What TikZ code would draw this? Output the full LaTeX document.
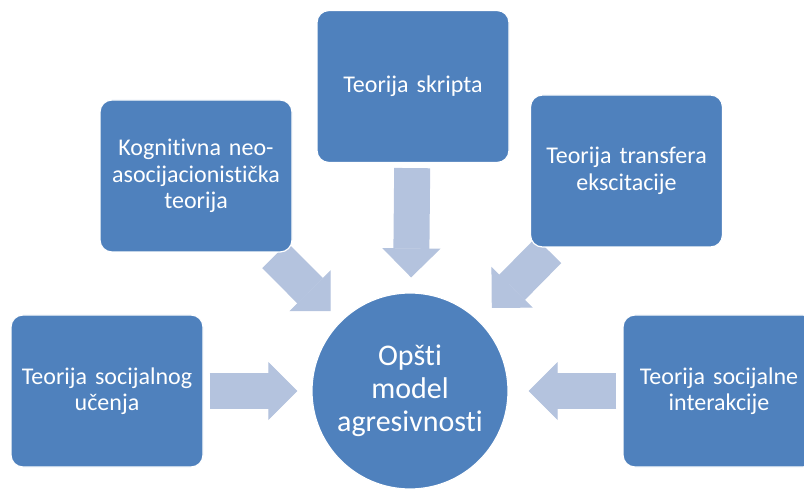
\documentclass[tikz,border=0pt]{standalone}
\usepackage{fontspec}
\setmainfont{Carlito}[Ligatures=NoCommon]
\usetikzlibrary{positioning,arrows.meta,backgrounds}

\definecolor{boxblue}{HTML}{4F81BD}
\definecolor{arrowblue}{HTML}{B4C3DE}

\begin{document}
\begin{tikzpicture}[x=1pt,y=1pt,on grid,
    box/.style={rectangle,rounded corners=12pt,fill=boxblue,draw=white,line width=1.2pt,
      minimum width=192pt,minimum height=152pt,text width=182pt,align=center,
      text=white,font=\fontsize{24}{26.5}\selectfont},
    hub/.style={circle,fill=boxblue,draw=white,line width=1.2pt,minimum size=196pt,
      inner sep=0pt,align=center,text=white,font=\fontsize{30}{33}\selectfont},
    blockarrow/.style={draw,color=arrowblue,line width=36pt,
      -{Triangle[width=58pt,length=29pt,line width=1pt]}}]

   \useasboundingbox (0,0) rectangle (804,-489);

   \node[hub] (centre) at (410,-391) {Opšti\\model\\agresivnosti};
   \node[box] (skript) [above right=304.5pt and 3pt of centre] {Teorija skripta};
   \node[box] (kogn)   [above left=215pt and 214pt of centre] {Kognitivna neo-\\asocijacionistička\\teorija};
   \node[box] (transf) [above right=220pt and 216.5pt of centre] {Teorija transfera\\ekscitacije};
   \node[box] (socuc)  [left=303pt of centre] {Teorija socijalnog\\učenja};
   \node[box] (socint) [right=309pt of centre] {Teorija socijalne\\interakcije};

   % strelice prema centru, ispod kutija
   \begin{pgfonlayer}{background}
   \path[blockarrow,shorten <=5pt,shorten >=15pt] (skript) edge (centre);
   \path[blockarrow,shorten <=4pt,shorten >=14pt] (kogn) edge (centre);
   \path[blockarrow,shorten <=4pt,shorten >=18pt] (transf) edge (centre);
   \path[blockarrow,shorten <=6pt,shorten >=14pt] (socuc) edge (centre);
   \path[blockarrow,shorten <=6pt,shorten >=20pt] (socint) edge (centre);
   \end{pgfonlayer}

\end{tikzpicture}
\end{document}
